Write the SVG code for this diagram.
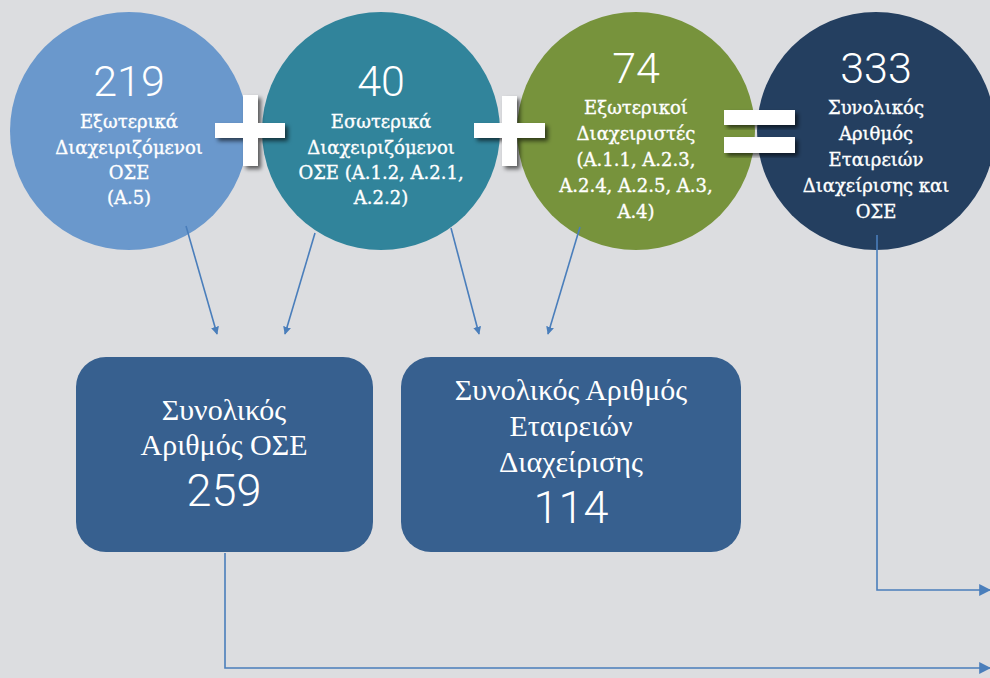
<svg xmlns="http://www.w3.org/2000/svg" width="990" height="678" viewBox="0 0 990 678">
<style>
.lbl{font-family:"DejaVu Serif","Liberation Serif",serif;font-size:18px;fill:#fff;stroke:#fff;stroke-width:0.35;text-anchor:middle}
.num{font-family:Roboto,"Liberation Sans",sans-serif;font-size:43px;font-weight:300;fill:#fff;text-anchor:middle}
.blbl{font-family:"Liberation Serif","DejaVu Serif",serif;font-size:30px;fill:#fff;text-anchor:middle}
.bnum{font-family:Roboto,"Liberation Sans",sans-serif;font-size:45px;font-weight:300;fill:#fff;text-anchor:middle}
.con{fill:none;stroke:#4a7ebb;stroke-width:1.6}
.sym{fill:#fff;filter:url(#sh)}
</style>
<defs>
<marker id="ah" viewBox="0 0 10 10" refX="9" refY="5" markerWidth="8" markerHeight="8" markerUnits="userSpaceOnUse" orient="auto"><path d="M0,0 L10,5 L0,10 z" fill="#4a7ebb"/></marker>
<marker id="ah2" viewBox="0 0 10 10" refX="9" refY="5" markerWidth="12" markerHeight="12" markerUnits="userSpaceOnUse" orient="auto"><path d="M0,0 L10,5 L0,10 z" fill="#4a7ebb"/></marker>
<filter id="sh" x="-30%" y="-30%" width="160%" height="160%"><feDropShadow dx="3" dy="3" stdDeviation="2" flood-color="#000" flood-opacity="0.6"/></filter>
</defs>
<rect width="990" height="678" fill="#dcdde0"/>
<g id="c1"><circle cx="129" cy="131" r="119" fill="#6a98cc"/>
<text class="num" x="129" y="96">219</text>
<text class="lbl" x="129" y="128">Εξωτερικά</text>
<text class="lbl" x="129" y="154">Διαχειριζόμενοι</text>
<text class="lbl" x="129" y="179">ΟΣΕ</text>
<text class="lbl" x="129" y="204">(Α.5)</text></g>
<g id="c2"><circle cx="381" cy="131" r="119" fill="#31849b"/>
<text class="num" x="381" y="96">40</text>
<text class="lbl" x="381" y="128">Εσωτερικά</text>
<text class="lbl" x="381" y="154">Διαχειριζόμενοι</text>
<text class="lbl" x="381" y="179">ΟΣΕ (Α.1.2, Α.2.1,</text>
<text class="lbl" x="381" y="204">Α.2.2)</text></g>
<g id="c3"><circle cx="636" cy="131" r="119" fill="#77933c"/>
<text class="num" x="636" y="83">74</text>
<text class="lbl" x="636" y="114">Εξωτερικοί</text>
<text class="lbl" x="636" y="140">Διαχειριστές</text>
<text class="lbl" x="636" y="166">(Α.1.1, Α.2.3,</text>
<text class="lbl" x="636" y="192">Α.2.4, Α.2.5, Α.3,</text>
<text class="lbl" x="636" y="218">Α.4)</text></g>
<g id="c4"><circle cx="876" cy="131" r="119" fill="#243f60"/>
<text class="num" x="876" y="83">333</text>
<text class="lbl" x="876" y="114">Συνολικός</text>
<text class="lbl" x="876" y="140">Αριθμός</text>
<text class="lbl" x="876" y="166">Εταιρειών</text>
<text class="lbl" x="876" y="192">Διαχείρισης και</text>
<text class="lbl" x="876" y="218">ΟΣΕ</text></g>
<g id="plus1"><path class="sym" d="M243,95 H258 V123 H285 V138 H258 V166 H243 V138 H215 V123 H243 Z"/></g>
<g id="plus2"><path class="sym" d="M502,96 H517 V123 H545 V138 H517 V166 H502 V138 H474 V123 H502 Z"/></g>
<g id="equals"><rect class="sym" x="724" y="110" width="71" height="15"/><rect class="sym" x="724" y="137" width="71" height="16"/></g>
<g id="b1"><rect x="76" y="357" width="297" height="195" rx="30" fill="#37608f"/>
<text class="blbl" x="224" y="420">Συνολικός</text>
<text class="blbl" x="224" y="455">Αριθμός ΟΣΕ</text>
<text class="bnum" x="224" y="506">259</text></g>
<g id="b2"><rect x="401" y="357" width="340" height="195" rx="30" fill="#37608f"/>
<text class="blbl" x="571" y="400">Συνολικός Αριθμός</text>
<text class="blbl" x="571" y="436">Εταιρειών</text>
<text class="blbl" x="571" y="472">Διαχείρισης</text>
<text class="bnum" x="571" y="523">114</text></g>
<g id="connectors">
<path class="con" marker-end="url(#ah)" d="M186,226 L217,334"/>
<path class="con" marker-end="url(#ah)" d="M315,233 L285,334"/>
<path class="con" marker-end="url(#ah)" d="M451,228 L479,334"/>
<path class="con" marker-end="url(#ah)" d="M580,227 L548,334"/>
<path class="con" marker-end="url(#ah2)" d="M877,235 V590 H990"/>
<path class="con" marker-end="url(#ah2)" d="M225,553 V668 H990"/>
</g>
</svg>
